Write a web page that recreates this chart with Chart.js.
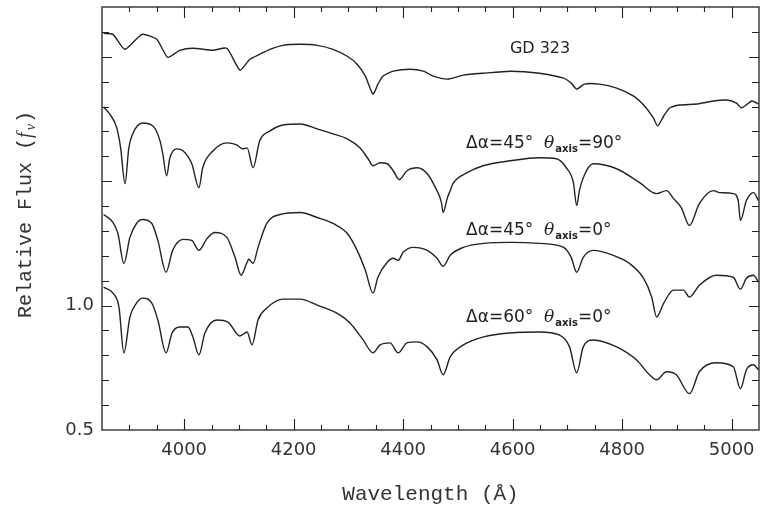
<!DOCTYPE html>
<html>
<head>
<meta charset="utf-8">
<script src="https://cdn.jsdelivr.net/npm/chart.js@4"></script>
<style>
  html, body { margin: 0; padding: 0; background: #fff; }
  #spec { display: block; }
</style>
</head>
<body>
<canvas id="spec" width="766" height="513"></canvas>
<script>
// Observed spectrum of GD 323 (wavelength in Angstrom, relative flux)
const gdWave = [3853, 3870, 3892, 3923, 3950, 3970, 3992, 4016, 4053, 4078, 4102, 4120, 4138, 4157, 4181, 4212, 4243, 4272, 4298, 4316, 4331, 4345, 4354, 4363, 4382, 4413, 4437, 4455, 4481, 4510, 4547, 4596, 4649, 4693, 4707, 4717, 4731, 4758, 4790, 4821, 4841, 4857, 4865, 4876, 4887, 4905, 4936, 4967, 4991, 5009, 5018, 5037, 5049];
const gdFlux = [2.094, 2.090, 2.030, 2.090, 2.070, 1.998, 2.026, 2.034, 2.026, 2.034, 1.946, 1.990, 2.010, 2.030, 2.046, 2.050, 2.046, 2.030, 2.002, 1.970, 1.922, 1.850, 1.890, 1.922, 1.942, 1.950, 1.942, 1.922, 1.910, 1.926, 1.934, 1.942, 1.934, 1.914, 1.894, 1.870, 1.890, 1.890, 1.874, 1.842, 1.802, 1.754, 1.722, 1.762, 1.794, 1.806, 1.810, 1.822, 1.826, 1.814, 1.794, 1.822, 1.810];

// Model: delta alpha = 45, theta axis = 90
const m1Wave = [3853, 3864, 3877, 3884, 3892, 3899, 3906, 3924, 3943, 3956, 3961, 3968, 3974, 3987, 3998, 4014, 4027, 4034, 4053, 4078, 4096, 4107, 4115, 4126, 4138, 4157, 4181, 4212, 4243, 4272, 4298, 4321, 4336, 4345, 4358, 4371, 4382, 4393, 4407, 4426, 4444, 4459, 4470, 4473, 4481, 4486, 4491, 4517, 4546, 4596, 4649, 4680, 4698, 4711, 4717, 4722, 4729, 4747, 4790, 4832, 4863, 4881, 4894, 4908, 4923, 4941, 4967, 4978, 5003, 5012, 5016, 5027, 5040, 5049];
const m1Flux = [1.798, 1.770, 1.714, 1.634, 1.490, 1.634, 1.690, 1.734, 1.722, 1.662, 1.610, 1.522, 1.594, 1.630, 1.622, 1.570, 1.474, 1.554, 1.622, 1.654, 1.646, 1.630, 1.634, 1.554, 1.662, 1.702, 1.726, 1.730, 1.710, 1.690, 1.670, 1.634, 1.590, 1.562, 1.574, 1.570, 1.542, 1.506, 1.542, 1.554, 1.530, 1.474, 1.414, 1.374, 1.434, 1.462, 1.490, 1.534, 1.562, 1.582, 1.594, 1.590, 1.554, 1.494, 1.402, 1.462, 1.514, 1.570, 1.550, 1.494, 1.450, 1.462, 1.430, 1.394, 1.322, 1.410, 1.462, 1.454, 1.450, 1.422, 1.342, 1.422, 1.454, 1.422];

// Model: delta alpha = 45, theta axis = 0
const m2Wave = [3853, 3870, 3879, 3890, 3901, 3913, 3924, 3941, 3952, 3967, 3979, 3998, 4014, 4027, 4042, 4056, 4078, 4093, 4104, 4115, 4118, 4126, 4135, 4151, 4175, 4212, 4243, 4272, 4298, 4316, 4331, 4345, 4354, 4371, 4382, 4391, 4400, 4419, 4444, 4462, 4473, 4486, 4510, 4547, 4596, 4649, 4693, 4707, 4717, 4729, 4747, 4784, 4813, 4839, 4854, 4863, 4876, 4894, 4912, 4923, 4941, 4972, 5003, 5016, 5027, 5040, 5049];
const m2Flux = [1.366, 1.334, 1.290, 1.170, 1.274, 1.330, 1.346, 1.330, 1.262, 1.134, 1.222, 1.266, 1.262, 1.222, 1.270, 1.294, 1.274, 1.194, 1.122, 1.174, 1.186, 1.170, 1.234, 1.330, 1.366, 1.374, 1.354, 1.330, 1.290, 1.222, 1.142, 1.050, 1.114, 1.174, 1.190, 1.182, 1.214, 1.234, 1.222, 1.190, 1.158, 1.202, 1.234, 1.250, 1.254, 1.250, 1.234, 1.194, 1.134, 1.194, 1.222, 1.202, 1.170, 1.110, 1.034, 0.954, 1.010, 1.062, 1.062, 1.034, 1.082, 1.122, 1.114, 1.066, 1.110, 1.122, 1.094];

// Model: delta alpha = 60, theta axis = 0
const m3Wave = [3853, 3870, 3881, 3890, 3901, 3913, 3924, 3941, 3952, 3967, 3978, 3992, 4007, 4016, 4027, 4038, 4060, 4080, 4102, 4115, 4124, 4135, 4151, 4181, 4212, 4243, 4285, 4303, 4327, 4345, 4358, 4376, 4391, 4407, 4426, 4444, 4462, 4473, 4486, 4510, 4547, 4596, 4649, 4685, 4704, 4717, 4729, 4747, 4790, 4826, 4850, 4863, 4881, 4899, 4923, 4941, 4972, 5003, 5016, 5027, 5040, 5049];
const m3Flux = [1.074, 1.050, 0.994, 0.810, 0.954, 1.010, 1.030, 1.010, 0.942, 0.810, 0.890, 0.914, 0.914, 0.874, 0.802, 0.890, 0.942, 0.934, 0.878, 0.894, 0.842, 0.942, 0.990, 1.026, 1.026, 1.002, 0.962, 0.930, 0.862, 0.810, 0.842, 0.850, 0.810, 0.850, 0.854, 0.834, 0.782, 0.722, 0.794, 0.842, 0.874, 0.890, 0.894, 0.882, 0.834, 0.730, 0.834, 0.862, 0.834, 0.782, 0.722, 0.702, 0.734, 0.722, 0.646, 0.734, 0.770, 0.754, 0.666, 0.742, 0.762, 0.742];

// axis limits and labelled ticks
const xMin = 3850, xMax = 5050;
const yMin = 0.5, yMax = 2.2;
const xTickVals = [4000, 4200, 4400, 4600, 4800, 5000];
const yTickVals = [0.5, 1.0];

function pts(w, f) {
  return w.map((v, i) => ({ x: v, y: f[i] }));
}

const lineStyle = {
  borderColor: '#222',
  borderWidth: 1.4,
  pointRadius: 0,
  fill: false,
  cubicInterpolationMode: 'monotone'
};

// curve labels, placed in data coordinates (left edge, baseline)
const notes = [
  { x: 4595, y: 2.014, parts: [['GD 323', '16px "DejaVu Sans"', 0]] },
  { x: 4515, y: 1.634, parts: [['Δα=45°  ', '17px "DejaVu Sans"', 0], ['θ', 'italic 17px "DejaVu Serif"', 0], ['axis', 'bold 10px "DejaVu Sans"', 4], ['=90°', '17px "DejaVu Sans"', 0]] },
  { x: 4515, y: 1.282, parts: [['Δα=45°  ', '17px "DejaVu Sans"', 0], ['θ', 'italic 17px "DejaVu Serif"', 0], ['axis', 'bold 10px "DejaVu Sans"', 4], ['=0°', '17px "DejaVu Sans"', 0]] },
  { x: 4515, y: 0.934, parts: [['Δα=60°  ', '17px "DejaVu Sans"', 0], ['θ', 'italic 17px "DejaVu Serif"', 0], ['axis', 'bold 10px "DejaVu Sans"', 4], ['=0°', '17px "DejaVu Sans"', 0]] }
];

const framePlugin = {
  id: 'frame',
  afterDraw(chart) {
    const { ctx, chartArea: a, scales: { x, y } } = chart;
    ctx.save();
    ctx.strokeStyle = '#222';
    ctx.lineWidth = 1.3;
    ctx.strokeRect(a.left, a.top, a.right - a.left, a.bottom - a.top);

    // inward ticks, minor every 50 A / 0.1
    ctx.lineWidth = 1.1;
    ctx.beginPath();
    for (let w = xMin + 50; w < xMax; w += 50) {
      const px = Math.round(x.getPixelForValue(w)) + 0.5;
      const len = w % 200 === 0 ? 11 : 5;
      ctx.moveTo(px, a.bottom); ctx.lineTo(px, a.bottom - len);
      ctx.moveTo(px, a.top); ctx.lineTo(px, a.top + len);
    }
    for (let k = 6; k <= 21; k++) {
      const py = Math.round(y.getPixelForValue(k / 10)) + 0.5;
      const len = k % 5 === 0 ? 10 : 7;
      ctx.moveTo(a.left, py); ctx.lineTo(a.left + len, py);
      ctx.moveTo(a.right, py); ctx.lineTo(a.right - len, py);
    }
    ctx.stroke();

    // curve labels
    ctx.fillStyle = '#222';
    ctx.textBaseline = 'alphabetic';
    ctx.textAlign = 'left';
    notes.forEach(n => {
      let px = x.getPixelForValue(n.x);
      const py = y.getPixelForValue(n.y);
      n.parts.forEach(([t, f, dy]) => {
        ctx.font = f;
        ctx.fillText(t, px, py + dy);
        px += ctx.measureText(t).width + (t === 'θ' ? 1 : 0);
      });
    });

    // axis titles
    ctx.fillStyle = '#333';
    ctx.font = '21px "Liberation Mono"';
    ctx.textAlign = 'center';
    ctx.fillText('Wavelength (Å)', (a.left + a.right) / 2, 500);

    ctx.translate(31, (a.top + a.bottom) / 2 - 4);
    ctx.rotate(-Math.PI / 2);
    const main = 'Relative Flux (';
    ctx.font = '20px "Liberation Mono"';
    const w1 = ctx.measureText(main).width;
    ctx.font = 'italic 20px "Liberation Serif"';
    const w2 = ctx.measureText('f').width + 2;
    ctx.font = '14px "Liberation Serif"';
    const w3 = ctx.measureText('ν').width + 1;
    ctx.font = '20px "Liberation Mono"';
    const w4 = ctx.measureText(')').width;
    let sx = -(w1 + w2 + w3 + w4) / 2;
    ctx.textAlign = 'left';
    ctx.fillText(main, sx, 0); sx += w1;
    ctx.font = 'italic 20px "Liberation Serif"';
    ctx.fillText('f', sx, 0); sx += w2;
    ctx.font = 'italic 14px "Liberation Serif"';
    ctx.fillText('ν', sx, 4); sx += w3;
    ctx.font = '20px "Liberation Mono"';
    ctx.fillText(')', sx, 0);
    ctx.restore();
  }
};

new Chart(document.getElementById('spec'), {
  type: 'line',
  data: {
    datasets: [
      { label: 'GD 323', data: pts(gdWave, gdFlux), ...lineStyle, cubicInterpolationMode: 'default', tension: 0.2 },
      { label: 'da45 t90', data: pts(m1Wave, m1Flux), ...lineStyle },
      { label: 'da45 t0', data: pts(m2Wave, m2Flux), ...lineStyle },
      { label: 'da60 t0', data: pts(m3Wave, m3Flux), ...lineStyle }
    ]
  },
  options: {
    responsive: false,
    animation: false,
    layout: { padding: { top: 7, right: 7, left: 0, bottom: 0 } },
    plugins: { legend: { display: false }, tooltip: { enabled: false } },
    scales: {
      x: {
        type: 'linear',
        min: xMin,
        max: xMax,
        grid: { display: false, drawTicks: false },
        border: { display: false },
        ticks: {
          padding: 10,
          color: '#333',
          font: { family: 'DejaVu Sans', size: 18 },
          maxRotation: 0,
          autoSkip: false,
          callback: v => String(v)
        },
        afterBuildTicks(s) { s.ticks = xTickVals.map(v => ({ value: v })); },
        afterFit(s) { s.height = 83; s.paddingLeft = 0; s.paddingRight = 0; }
      },
      y: {
        min: yMin,
        max: yMax,
        grid: { display: false, drawTicks: false },
        border: { display: false },
        ticks: {
          autoSkip: false,
          padding: 8,
          color: '#333',
          font: { family: 'DejaVu Sans', size: 18 },
          callback: v => v.toFixed(1)
        },
        afterBuildTicks(s) { s.ticks = yTickVals.map(v => ({ value: v })); },
        afterFit(s) { s.width = 102; s.paddingTop = 0; s.paddingBottom = 0; }
      }
    }
  },
  plugins: [framePlugin]
});
</script>
</body>
</html>
